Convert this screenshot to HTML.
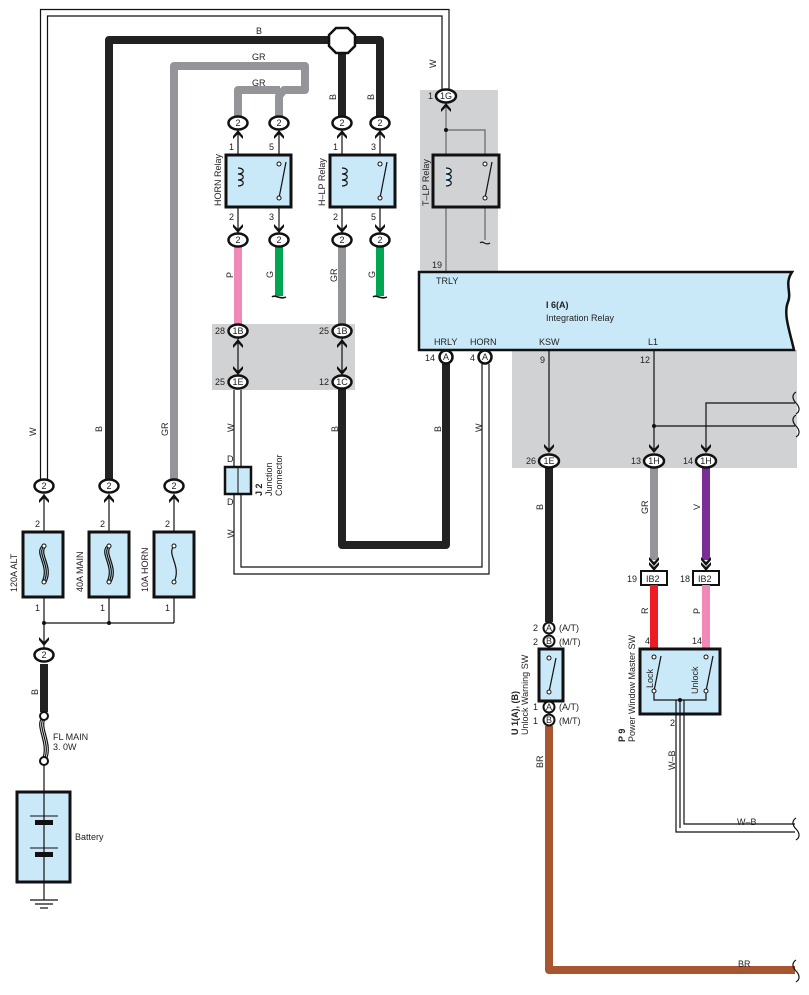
<!DOCTYPE html>
<html><head><meta charset="utf-8"><style>
html,body{margin:0;padding:0;background:#fff;}
svg{display:block;font-family:"Liberation Sans",Arial,sans-serif;}
text{font-size:9px;fill:#222;}
</style></head><body>
<svg width="809" height="995" viewBox="0 0 809 995" xmlns="http://www.w3.org/2000/svg">
<defs>
<g id="arrUp"><polygon points="-5,6 0,0 5,6 5,9 0,4 -5,9" fill="#111"/></g>
<g id="arrDn"><polygon points="-5,-6 0,0 5,-6 5,-9 0,-4 -5,-9" fill="#111"/></g>
</defs>
<rect x="420" y="90" width="78" height="183" fill="#d1d2d4"/>
<rect x="212" y="324" width="143" height="66" fill="#d1d2d4"/>
<rect x="512" y="350" width="285" height="118" fill="#d1d2d4"/>

<path d="M40.5,480 V9.5 H449 V92" fill="none" stroke="#111" stroke-width="1.2"/>
<path d="M47.5,480 V16 H442 V92" fill="none" stroke="#111" stroke-width="1.2"/>
<path d="M109,480 V40 H330" fill="none" stroke="#222" stroke-width="8" stroke-linejoin="round"/>
<path d="M354,40 H380 V116" fill="none" stroke="#222" stroke-width="8" stroke-linejoin="round"/>
<path d="M342,52 V116" fill="none" stroke="#222" stroke-width="8"/>
<polygon points="336,28 348,28 355,35 355,46 348,53 336,53 329,46 329,35" fill="#fff" stroke="#111" stroke-width="2.5"/>
<path d="M174,480 V66 H305 V90 H284 L279,96 V116" fill="none" stroke="#939598" stroke-width="8" stroke-linejoin="round"/>
<path d="M238,116 V90 H280" fill="none" stroke="#939598" stroke-width="8" stroke-linejoin="round"/>
<text x="256" y="34">B</text>
<text x="252" y="60">GR</text>
<text x="252" y="86">GR</text>
<text transform="translate(436,68) rotate(-90)">W</text>
<text transform="translate(336,100) rotate(-90)">B</text>
<text transform="translate(374,100) rotate(-90)">B</text>

<g stroke="#111" stroke-width="1.2">
<line x1="238" y1="128" x2="238" y2="236"/><line x1="279" y1="128" x2="279" y2="236"/>
<line x1="342" y1="128" x2="342" y2="236"/><line x1="380" y1="128" x2="380" y2="236"/>
</g>
<g stroke="#666" stroke-width="1.2" fill="none">
<line x1="446" y1="102" x2="446" y2="272"/><path d="M446,130 H485 V240"/>
</g>
<circle cx="446" cy="130" r="2" fill="#111"/>
<rect x="226" y="155" width="65" height="52" fill="#c9e8f8" stroke="#111" stroke-width="3"/>
<rect x="330" y="155" width="65" height="52" fill="#c9e8f8" stroke="#111" stroke-width="3"/>
<rect x="433" y="155" width="66" height="52" fill="#d1d2d4" stroke="#111" stroke-width="3"/>
<g fill="#c9e8f8" stroke="#111" stroke-width="1.2">
<path d="M238,168 c7,0 7,6 0,6 c7,0 7,6 0,6 c7,0 7,6 0,6"/>
<path d="M342,168 c7,0 7,6 0,6 c7,0 7,6 0,6 c7,0 7,6 0,6"/>
<path d="M446,168 c7,0 7,6 0,6 c7,0 7,6 0,6 c7,0 7,6 0,6"/>
</g>
<g fill="none" stroke="#111" stroke-width="1.2">
<line x1="279" y1="198" x2="286" y2="162"/><line x1="380" y1="198" x2="387" y2="162"/><line x1="485" y1="198" x2="492" y2="162"/>
<path d="M480,243 c3,-3 5,3 10,0"/>
</g>
<g fill="#fff" stroke="#111" stroke-width="1"><circle cx="279" cy="164" r="2"/><circle cx="279" cy="198" r="2"/><circle cx="380" cy="164" r="2"/><circle cx="380" cy="198" r="2"/><circle cx="485" cy="164" r="2"/><circle cx="485" cy="198" r="2"/></g>
<g font-size="9">
<text transform="translate(221,206) rotate(-90)">HORN Relay</text>
<text transform="translate(325,206) rotate(-90)">H–LP Relay</text>
<text transform="translate(429,206) rotate(-90)">T–LP Relay</text>
<text x="229" y="150">1</text><text x="269" y="150">5</text><text x="333" y="150">1</text><text x="371" y="150">3</text>
<text x="229" y="220">2</text><text x="269" y="220">3</text><text x="333" y="220">2</text><text x="371" y="220">5</text>
<text x="432" y="268">19</text><text x="428" y="99">1</text>
</g>
<line x1="238" y1="247" x2="238" y2="325" stroke="#f088b8" stroke-width="8"/>
<line x1="279" y1="247" x2="279" y2="296" stroke="#00a651" stroke-width="8"/>
<line x1="342" y1="247" x2="342" y2="325" stroke="#939598" stroke-width="8"/>
<line x1="380" y1="247" x2="380" y2="296" stroke="#00a651" stroke-width="8"/>
<path d="M272,297 c3,-3 8,3 14,0 M373,297 c3,-3 8,3 14,0" fill="none" stroke="#111" stroke-width="1.5"/>
<text transform="translate(233,278) rotate(-90)">P</text>
<text transform="translate(273,278) rotate(-90)">G</text>
<text transform="translate(337,282) rotate(-90)">GR</text>
<text transform="translate(375,278) rotate(-90)">G</text>

<g stroke="#111" stroke-width="1.2"><line x1="238" y1="338" x2="238" y2="376"/><line x1="342" y1="338" x2="342" y2="376"/></g>
<use href="#arrUp" x="238" y="339"/><use href="#arrDn" x="238" y="375"/>
<use href="#arrUp" x="342" y="339"/><use href="#arrDn" x="342" y="375"/>
<path d="M342,388 V545 H446 V364" fill="none" stroke="#222" stroke-width="8" stroke-linejoin="round"/>
<path d="M234,390 V574 H489 V364" fill="none" stroke="#111" stroke-width="1.2"/>
<path d="M241,390 V567 H482 V364" fill="none" stroke="#111" stroke-width="1.2"/>
<rect x="225" y="467" width="26" height="27" fill="#c9e8f8" stroke="#111" stroke-width="2.5"/>
<line x1="238" y1="467" x2="238" y2="494" stroke="#111" stroke-width="1"/>
<text x="227" y="462">D</text><text x="227" y="505">D</text>
<text transform="translate(262,496) rotate(-90)" font-weight="bold">J 2</text>
<text transform="translate(272,496) rotate(-90)">Junction</text>
<text transform="translate(282,496) rotate(-90)">Connector</text>
<text transform="translate(234,432) rotate(-90)">W</text>
<text transform="translate(234,538) rotate(-90)">W</text>
<text transform="translate(338,432) rotate(-90)">B</text>
<text transform="translate(441,432) rotate(-90)">B</text>
<text transform="translate(482,432) rotate(-90)">W</text>

<path d="M419,272 H792 c-8,12 0,20 -4,30 c-5,12 2,30 6,48 H419 Z" fill="#c9e8f8" stroke="#111" stroke-width="2.5"/>
<text x="436" y="284">TRLY</text>
<text x="546" y="308" font-weight="bold">I 6(A)</text>
<text x="546" y="321">Integration Relay</text>
<text x="434" y="345">HRLY</text><text x="470" y="345">HORN</text>
<text x="539" y="345">KSW</text><text x="648" y="345">L1</text>
<text x="425" y="361">14</text><text x="470" y="361">4</text>
<text x="540" y="363">9</text><text x="640" y="363">12</text>
<g stroke="#111" stroke-width="1.2" fill="none">
<line x1="549" y1="350" x2="549" y2="452"/>
<line x1="654" y1="350" x2="654" y2="452"/>
<path d="M654,426 H795"/>
<path d="M706,452 V403 H795"/>
<path d="M796,392 c-5,3 -3,8 0,11 c3,3 5,8 0,11 M796,415 c-5,3 -3,8 0,11 c3,3 5,8 0,11"/>
</g>
<circle cx="654" cy="426" r="2" fill="#111"/>
<use href="#arrDn" x="549" y="453"/><use href="#arrDn" x="654" y="453"/><use href="#arrDn" x="706" y="453"/>
<text x="526" y="464">26</text><text x="631" y="464">13</text><text x="683" y="464">14</text>

<line x1="549" y1="466" x2="549" y2="622" stroke="#222" stroke-width="8"/>
<path d="M549,726 V970 H795" fill="none" stroke="#a85532" stroke-width="8" stroke-linejoin="round"/>
<path d="M796,960 c-5,3 -3,8 0,11 c3,3 5,8 0,11" fill="none" stroke="#111" stroke-width="1.2"/>
<text x="738" y="967">BR</text>
<text transform="translate(543,510) rotate(-90)">B</text>
<text transform="translate(543,768) rotate(-90)">BR</text>
<line x1="654" y1="466" x2="654" y2="560" stroke="#939598" stroke-width="8"/>
<line x1="706" y1="466" x2="706" y2="560" stroke="#7b2d96" stroke-width="8"/>
<text transform="translate(648,514) rotate(-90)">GR</text>
<text transform="translate(700,510) rotate(-90)">V</text>
<use href="#arrDn" x="654" y="566"/><use href="#arrDn" x="654" y="571"/>
<use href="#arrDn" x="706" y="566"/><use href="#arrDn" x="706" y="571"/>
<rect x="641" y="571" width="26" height="14" fill="#fff" stroke="#111" stroke-width="2"/>
<rect x="693" y="571" width="26" height="14" fill="#fff" stroke="#111" stroke-width="2"/>
<text x="646" y="582">IB2</text><text x="698" y="582">IB2</text>
<text x="627" y="582">19</text><text x="680" y="582">18</text>
<line x1="654" y1="585" x2="654" y2="648" stroke="#ed1c24" stroke-width="8"/>
<line x1="706" y1="585" x2="706" y2="648" stroke="#f088b8" stroke-width="8"/>
<text transform="translate(648,614) rotate(-90)">R</text>
<text transform="translate(700,614) rotate(-90)">P</text>
<text x="645" y="644">4</text><text x="692" y="644">14</text>
<rect x="640" y="649" width="80" height="65" fill="#c9e8f8" stroke="#111" stroke-width="3"/>
<g stroke="#111" stroke-width="1.2" fill="none">
<line x1="654" y1="691" x2="661" y2="656"/><line x1="706" y1="691" x2="713" y2="656"/>
<path d="M654,691 V700 H706 V691 M680,700 V828 M676,700 V832 H795 M684,700 V824 H795"/>
<path d="M796,818 c-5,3 -3,8 0,11 c3,3 5,8 0,11"/>
</g>
<circle cx="680" cy="700" r="2" fill="#111"/>
<g fill="#fff" stroke="#111" stroke-width="1"><circle cx="654" cy="657" r="2"/><circle cx="654" cy="691" r="2"/><circle cx="706" cy="657" r="2"/><circle cx="706" cy="691" r="2"/></g>
<text transform="translate(653,688) rotate(-90)">Lock</text>
<text transform="translate(698,694) rotate(-90)">Unlock</text>
<text x="670" y="726">2</text>
<text transform="translate(675,770) rotate(-90)">W–B</text>
<text x="737" y="825">W–B</text>
<text transform="translate(625,742) rotate(-90)" font-weight="bold">P 9</text>
<text transform="translate(635,742) rotate(-90)">Power Window Master SW</text>

<rect x="539" y="649" width="24" height="52" fill="#c9e8f8" stroke="#111" stroke-width="3"/>
<line x1="549" y1="692" x2="556" y2="658" stroke="#111" stroke-width="1.2"/>
<g fill="#fff" stroke="#111" stroke-width="1"><circle cx="549" cy="658" r="2"/><circle cx="549" cy="692" r="2"/></g>
<text transform="translate(518,735) rotate(-90)" font-weight="bold">U 1(A), (B)</text>
<text transform="translate(528,735) rotate(-90)">Unlock Warning SW</text>
<g font-size="9">
<text x="533" y="631">2</text><text x="533" y="645">2</text><text x="533" y="710">1</text><text x="533" y="724">1</text>
<text x="559" y="631">(A/T)</text><text x="559" y="645">(M/T)</text><text x="559" y="710">(A/T)</text><text x="559" y="724">(M/T)</text>
</g>
<g fill="#fff" stroke="#111" stroke-width="2"><circle cx="549" cy="628" r="5.5"/><circle cx="549" cy="641" r="5.5"/><circle cx="549" cy="707" r="5.5"/><circle cx="549" cy="720" r="5.5"/></g>
<g font-size="8" text-anchor="middle"><text x="549" y="631">A</text><text x="549" y="644">B</text><text x="549" y="710">A</text><text x="549" y="723">B</text></g>

<g stroke="#111" stroke-width="1.2" fill="none">
<line x1="44" y1="494" x2="44" y2="655"/><line x1="109" y1="494" x2="109" y2="623"/><line x1="174" y1="494" x2="174" y2="623"/>
<line x1="44" y1="623" x2="174" y2="623"/>
<line x1="44" y1="764" x2="44" y2="900"/>
<line x1="30" y1="900" x2="58" y2="900"/><line x1="35" y1="904" x2="53" y2="904"/><line x1="40" y1="908" x2="48" y2="908"/>
</g>
<circle cx="44" cy="623" r="2" fill="#111"/><circle cx="109" cy="623" r="2" fill="#111"/>
<use href="#arrUp" x="44" y="494"/><use href="#arrUp" x="109" y="494"/><use href="#arrUp" x="174" y="494"/>
<use href="#arrDn" x="44" y="646"/>
<text transform="translate(36,436) rotate(-90)">W</text>
<text transform="translate(102,432) rotate(-90)">B</text>
<text transform="translate(168,436) rotate(-90)">GR</text>
<rect x="23" y="532" width="40" height="65" fill="#c9e8f8" stroke="#111" stroke-width="3"/>
<rect x="89" y="532" width="40" height="65" fill="#c9e8f8" stroke="#111" stroke-width="3"/>
<rect x="154" y="532" width="40" height="65" fill="#c9e8f8" stroke="#111" stroke-width="3"/>
<g fill="none" stroke="#111" stroke-width="1.2">
<path d="M44,546 c-8,8 8,20 0,36 M42,546 c-8,8 8,20 0,36 M46,546 c-8,8 8,20 0,36"/>
<path d="M109,546 c-8,8 8,20 0,36 M107,546 c-8,8 8,20 0,36 M111,546 c-8,8 8,20 0,36"/>
<path d="M174,546 c-8,8 8,20 0,36"/>
<path d="M44,718 c-8,8 8,26 0,42 M42,718 c-8,8 8,26 0,42 M46,718 c-8,8 8,26 0,42"/>
</g>
<g fill="#fff" stroke="#111" stroke-width="1"><circle cx="44" cy="546" r="2"/><circle cx="44" cy="582" r="2"/><circle cx="109" cy="546" r="2"/><circle cx="109" cy="582" r="2"/><circle cx="174" cy="546" r="2"/><circle cx="174" cy="582" r="2"/></g>
<g font-size="9">
<text x="35" y="527">2</text><text x="100" y="527">2</text><text x="165" y="527">2</text>
<text x="35" y="611">1</text><text x="100" y="611">1</text><text x="165" y="611">1</text>
<text transform="translate(17,592) rotate(-90)">120A ALT</text>
<text transform="translate(83,592) rotate(-90)">40A MAIN</text>
<text transform="translate(148,592) rotate(-90)">10A HORN</text>
</g>
<line x1="44" y1="664" x2="44" y2="712" stroke="#222" stroke-width="8"/>
<text transform="translate(38,695) rotate(-90)">B</text>
<circle cx="44" cy="716" r="4" fill="#fff" stroke="#111" stroke-width="2"/>
<circle cx="44" cy="761" r="4" fill="#fff" stroke="#111" stroke-width="2"/>
<text x="53" y="740">FL MAIN</text><text x="53" y="750">3. 0W</text>
<rect x="17" y="792" width="53" height="90" fill="#c9e8f8" stroke="#111" stroke-width="3"/>
<line x1="44" y1="792" x2="44" y2="882" stroke="#111" stroke-width="1.2"/>
<rect x="35" y="820" width="18" height="5" fill="#111"/><rect x="35" y="852" width="18" height="5" fill="#111"/>
<line x1="30" y1="816" x2="58" y2="816" stroke="#111"/><line x1="30" y1="848" x2="58" y2="848" stroke="#111"/>
<text x="75" y="840">Battery</text>

<g fill="#fff" stroke="#111" stroke-width="2.5">
<ellipse cx="44" cy="486" rx="9.5" ry="6.5"/><ellipse cx="109" cy="486" rx="9.5" ry="6.5"/><ellipse cx="174" cy="486" rx="9.5" ry="6.5"/>
<ellipse cx="44" cy="655" rx="9.5" ry="6.5"/>
<ellipse cx="238" cy="123" rx="9.5" ry="6.5"/><ellipse cx="279" cy="123" rx="9.5" ry="6.5"/><ellipse cx="342" cy="123" rx="9.5" ry="6.5"/><ellipse cx="380" cy="123" rx="9.5" ry="6.5"/>
<ellipse cx="238" cy="240" rx="9.5" ry="6.5"/><ellipse cx="279" cy="240" rx="9.5" ry="6.5"/><ellipse cx="342" cy="240" rx="9.5" ry="6.5"/><ellipse cx="380" cy="240" rx="9.5" ry="6.5"/>
<ellipse cx="238" cy="331" rx="9.5" ry="6.5"/><ellipse cx="342" cy="331" rx="9.5" ry="6.5"/>
<ellipse cx="238" cy="382" rx="9.5" ry="6.5"/><ellipse cx="342" cy="382" rx="9.5" ry="6.5"/>
<ellipse cx="446" cy="96" rx="10" ry="6.5"/>
<ellipse cx="549" cy="461" rx="10" ry="6.5"/><ellipse cx="654" cy="461" rx="10" ry="6.5"/><ellipse cx="706" cy="461" rx="10" ry="6.5"/>
<ellipse cx="446" cy="357" rx="6.5" ry="6.5"/><ellipse cx="485" cy="357" rx="6.5" ry="6.5"/>
</g>
<g font-size="9" text-anchor="middle">
<text x="44" y="489">2</text><text x="109" y="489">2</text><text x="174" y="489">2</text><text x="44" y="658">2</text>
<text x="238" y="126">2</text><text x="279" y="126">2</text><text x="342" y="126">2</text><text x="380" y="126">2</text>
<text x="238" y="243">2</text><text x="279" y="243">2</text><text x="342" y="243">2</text><text x="380" y="243">2</text>
<text x="238" y="334">1B</text><text x="342" y="334">1B</text><text x="238" y="385">1E</text><text x="342" y="385">1C</text>
<text x="446" y="99">1G</text><text x="549" y="464">1E</text><text x="654" y="464">1H</text><text x="706" y="464">1H</text>
<text x="446" y="360">A</text><text x="485" y="360">A</text>
</g>
<g font-size="9"><text x="215" y="334">28</text><text x="319" y="334">25</text><text x="215" y="385">25</text><text x="319" y="385">12</text></g>
<use href="#arrUp" x="238" y="130"/><use href="#arrUp" x="279" y="130"/><use href="#arrUp" x="342" y="130"/><use href="#arrUp" x="380" y="130"/>
<use href="#arrDn" x="238" y="233"/><use href="#arrDn" x="279" y="233"/><use href="#arrDn" x="342" y="233"/><use href="#arrDn" x="380" y="233"/>
<use href="#arrUp" x="446" y="103"/>
</svg>
</body></html>
